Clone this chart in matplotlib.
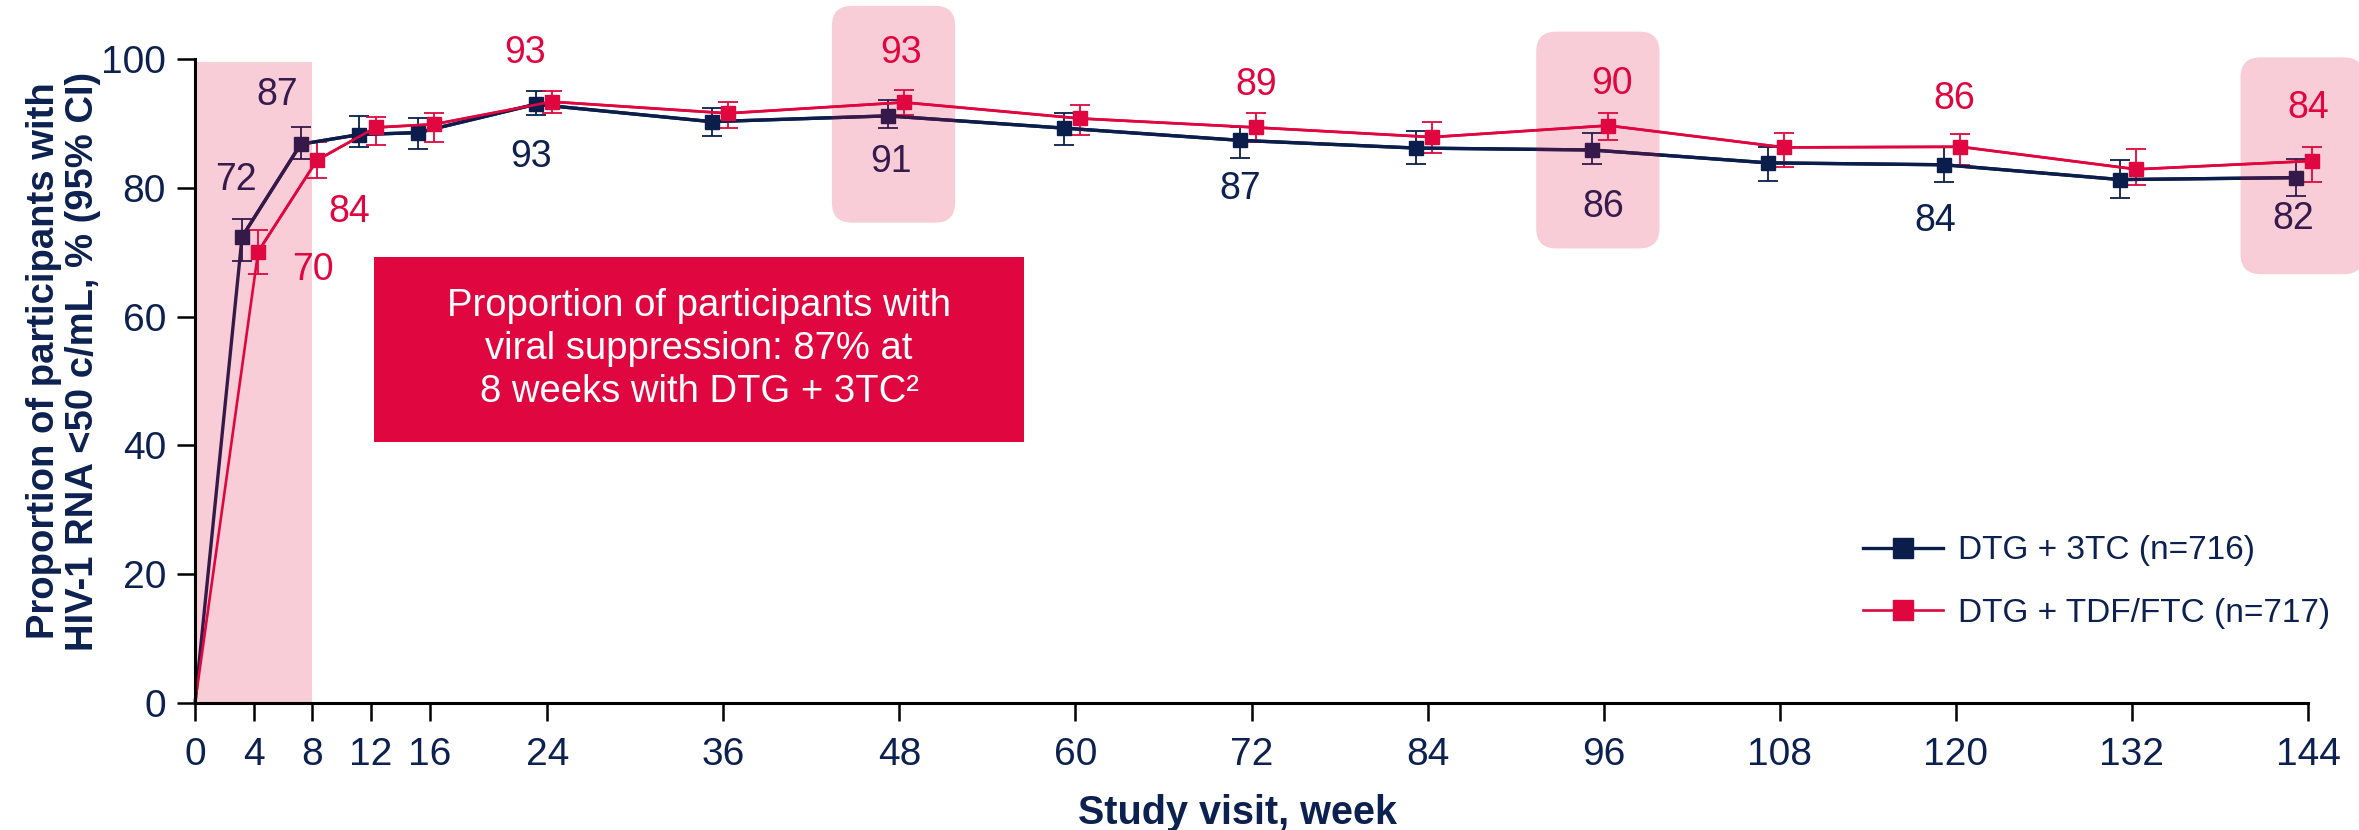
import numpy as np
import matplotlib.pyplot as plt
from matplotlib.patches import FancyBboxPatch, Rectangle

plt.rcParams.update({
    'font.family': ['Liberation Sans', 'DejaVu Sans'],
    'figure.dpi': 100,
    'savefig.dpi': 100,
})
NAVY = '#0b1e4b'
RED = '#e0063f'
INK = '#0d2150'

# study visits (weeks) and response rates with 95% CI
weeks = [4, 8, 12, 16, 24, 36, 48, 60, 72, 84, 96, 108, 120, 132, 144]
week_ticks = [0, 4, 8, 12, 16, 24, 36, 48, 60, 72, 84, 96, 108, 120, 132, 144]

dtg_3tc = [72.4, 86.8, 88.3, 88.6, 93.0, 90.3, 91.2, 89.3, 87.4, 86.2, 85.9, 83.9, 83.6, 81.3, 81.6]
dtg_3tc_lo = [68.6, 84.5, 86.3, 86.0, 91.3, 88.0, 89.3, 86.7, 84.7, 83.7, 83.7, 81.1, 80.9, 78.5, 78.8]
dtg_3tc_hi = [75.2, 89.5, 91.2, 90.9, 95.1, 92.4, 93.6, 91.6, 89.5, 88.8, 88.6, 86.4, 86.3, 84.4, 84.5]

dtg_tdf = [70.1, 84.3, 89.4, 89.9, 93.4, 91.6, 93.3, 90.8, 89.4, 87.9, 89.7, 86.3, 86.4, 82.9, 84.2]
dtg_tdf_lo = [66.7, 81.6, 86.6, 87.1, 91.6, 89.3, 91.4, 88.3, 87.2, 85.4, 87.4, 83.3, 83.6, 80.5, 80.9]
dtg_tdf_hi = [73.5, 87.1, 91.0, 91.6, 95.0, 93.3, 95.2, 92.9, 91.6, 90.3, 91.6, 88.6, 88.4, 86.0, 86.3]

labelled_weeks = [4, 8, 24, 48, 72, 96, 120, 144]
highlight_weeks = [48, 96, 144]

series = [
    ('DTG + 3TC (n=716)', dtg_3tc, dtg_3tc_lo, dtg_3tc_hi, NAVY, -0.8, 2.4),
    ('DTG + TDF/FTC (n=717)', dtg_tdf, dtg_tdf_lo, dtg_tdf_hi, RED, 0.3, 1.9),
]
# where the value labels sit (data coords), per series
label_xy = {
    NAVY: [(2.8, 81.2), (5.6, 94.5), (22.9, 84.8), (47.4, 84.0), (71.2, 79.8), (96.0, 77.0), (118.6, 74.9), (143.0, 75.1)],
    RED: [(8.0, 67.3), (10.5, 76.3), (22.5, 101.0), (48.1, 101.0), (72.3, 96.0), (96.6, 96.2), (119.9, 93.8), (144.0, 92.4)],
}
box_bottom = {48: 74.6, 96: 70.6, 144: 66.6}

fig = plt.figure(figsize=(23.59, 8.30))
ax = fig.add_axes([0.0827, 0.1534, 0.8957, 0.7752])
ax.set_xlim(0, 144); ax.set_ylim(0, 100)

for name, v, lo, hi, col, dx, lw in series:
    x = np.array(weeks) + dx
    v = np.array(v)
    ax.plot(np.r_[0, x], np.r_[0, v], color=col, lw=lw, zorder=2, clip_on=False)
    ax.errorbar(x, v, yerr=[v - np.array(lo), np.array(hi) - v], fmt='none', ecolor=col,
                elinewidth=1.3, capsize=7, capthick=1.3, zorder=2, clip_on=False)
    ax.plot(x, v, ls='-', color=col, lw=lw, marker='s', ms=10.5, mec=col, mfc=col,
            label=name, zorder=3, clip_on=False)
    for wk, (tx, ty) in zip(labelled_weeks, label_xy[col]):
        ax.text(tx, ty, f'{v[weeks.index(wk)]:.0f}', color=col if col == RED else INK,
                fontsize=27, ha='center', va='center', zorder=4, clip_on=False)

# pink overlays (drawn on top, translucent)
ax.add_patch(Rectangle((0, 0), 8, 99.5, facecolor=RED, alpha=0.2, lw=0, zorder=5))
bb = ax.get_position()
px_x = bb.width * fig.get_figwidth() * fig.dpi / 144
px_y = bb.height * fig.get_figheight() * fig.dpi / 100
r = 20 / px_x
for wk in highlight_weeks:
    ax.add_patch(FancyBboxPatch((wk - 4.6, box_bottom[wk]), 8.4, 33.7,
                                boxstyle=f'round,pad=0,rounding_size={r}',
                                mutation_aspect=px_x / px_y, facecolor=RED, alpha=0.2,
                                lw=0, zorder=5, clip_on=False))

# callout box
ax.add_patch(Rectangle((12.2, 40.5), 44.3, 28.8, facecolor=RED, lw=0, zorder=6))
ax.text(34.35, 54.9, 'Proportion of participants with\nviral suppression: 87% at\n8 weeks with DTG + 3TC²',
        color='white', fontsize=27.5, ha='center', va='center', linespacing=1.25, zorder=7)

for s in ['top', 'right']:
    ax.spines[s].set_visible(False)
for s in ['left', 'bottom']:
    ax.spines[s].set_linewidth(2.2); ax.spines[s].set_zorder(10)
ax.set_xticks(week_ticks)
ax.set_yticks(range(0, 101, 20))
ax.tick_params(axis='both', length=13, width=1.8, labelsize=28, labelcolor=INK, color='black')
ax.tick_params(axis='x', pad=12)
ax.tick_params(axis='y', pad=8)

fig.text(0.5245, 0.021, 'Study visit, week', fontsize=28.5, fontweight='bold', color=INK,
         ha='center', va='center')
fig.text(0.027, 0.565, 'Proportion of participants with\nHIV-1 RNA <50 c/mL, % (95% CI)', fontsize=27.5,
         fontweight='bold', color=INK, ha='center', va='center', rotation=90, linespacing=1.1)

ax.legend(loc='upper left', bbox_to_anchor=(0.7897, 0.355), bbox_transform=fig.transFigure,
          frameon=False, fontsize=24, labelcolor=INK, handlelength=2.4, handletextpad=0.45,
          labelspacing=0.95, borderpad=0, borderaxespad=0, markerscale=1.35)

fig.savefig('out.png')
